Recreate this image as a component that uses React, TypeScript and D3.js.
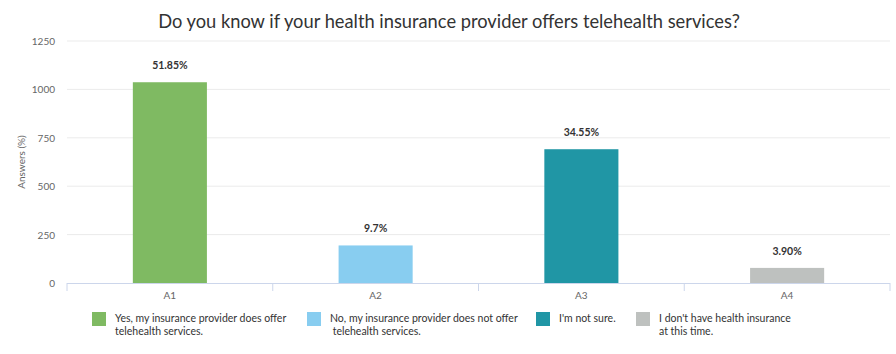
import * as d3 from 'd3'
import { useEffect, useRef } from 'react'

const categories = ['A1', 'A2', 'A3', 'A4']
const answers = [1037, 194, 691, 78]
const percentLabels = ['51.85%', '9.7%', '34.55%', '3.90%']
const legendLines = [
    ['Yes, my insurance provider does offer', 'telehealth services.'],
    ['No, my insurance provider does not offer', ' telehealth services.'],
    ["I'm not sure."],
    ["I don't have health insurance", 'at this time.'],
]
const colors = ['#7fba62', '#88cdf0', '#2096a5', '#bec1bf']
const yTicks = [0, 250, 500, 750, 1000, 1250]

const width = 896
const height = 354
const font = 'Lato, "Open Sans", sans-serif'

export default function App() {
    const svgRef = useRef<SVGSVGElement>(null)

    useEffect(() => {
        if (!svgRef.current) return
        const svg = d3.select(svgRef.current)
        svg.selectAll('*').remove()

        const margin = { top: 41, right: 6, bottom: 71, left: 67 }
        const x = d3
            .scaleBand()
            .domain(categories)
            .range([margin.left, width - margin.right])
            .paddingInner(0)
            .paddingOuter(0)
        const y = d3
            .scaleLinear()
            .domain([0, 1250])
            .range([height - margin.bottom, margin.top])

        // title
        svg.append('text')
            .attr('x', 449)
            .attr('y', 28)
            .attr('text-anchor', 'middle')
            .attr('font-family', font)
            .attr('font-size', 18.3)
            .attr('fill', '#333')
            .text('Do you know if your health insurance provider offers telehealth services?')

        // grid lines + y labels
        yTicks.forEach((t) => {
            if (t > 0) {
                svg.append('line')
                    .attr('x1', margin.left)
                    .attr('x2', width - margin.right)
                    .attr('y1', y(t))
                    .attr('y2', y(t))
                    .attr('stroke', '#ebebeb')
                    .attr('stroke-width', 1)
            }
            svg.append('text')
                .attr('x', 55)
                .attr('y', y(t) + 4)
                .attr('text-anchor', 'end')
                .attr('font-family', font)
                .attr('font-size', 10)
                .attr('fill', '#666')
                .text(t)
        })

        svg.append('text')
            .attr('transform', `translate(25,${(y(0) + y(1250)) / 2}) rotate(-90)`)
            .attr('text-anchor', 'middle')
            .attr('font-family', font)
            .attr('font-size', 10)
            .attr('fill', '#666')
            .text('Answers (%)')

        // bars
        const barW = x.bandwidth() * 0.36
        categories.forEach((c, i) => {
            const cx = (x(c) as number) + x.bandwidth() / 2
            svg.append('rect')
                .attr('x', cx - barW / 2)
                .attr('y', y(answers[i]))
                .attr('width', barW)
                .attr('height', y(0) - y(answers[i]))
                .attr('fill', colors[i])
            svg.append('text')
                .attr('x', cx)
                .attr('y', y(answers[i]) - 13)
                .attr('text-anchor', 'middle')
                .attr('font-family', font)
                .attr('font-size', 10.5)
                .attr('font-weight', 'bold')
                .attr('fill', '#333')
                .text(percentLabels[i])
            svg.append('text')
                .attr('x', cx)
                .attr('y', y(0) + 16)
                .attr('text-anchor', 'middle')
                .attr('font-family', font)
                .attr('font-size', 10)
                .attr('fill', '#666')
                .text(c)
        })

        // x axis line and ticks
        svg.append('line')
            .attr('x1', margin.left)
            .attr('x2', width - margin.right)
            .attr('y1', y(0) + 0.5)
            .attr('y2', y(0) + 0.5)
            .attr('stroke', '#ccd6eb')
        const edges = categories.map((c) => x(c) as number)
        edges.push(width - margin.right)
        edges.forEach((e) => {
            svg.append('line')
                .attr('x1', e)
                .attr('x2', e)
                .attr('y1', y(0))
                .attr('y2', y(0) + 8)
                .attr('stroke', '#ccd6eb')
        })

        // legend
        const legendX = [92, 307, 536, 636]
        legendLines.forEach((lines, i) => {
            const g = svg.append('g').attr('transform', `translate(${legendX[i]},312)`)
            g.append('rect')
                .attr('width', 14)
                .attr('height', 14)
                .attr('fill', colors[i])
            const txt = g.append('text')
                .attr('font-family', font)
                .attr('font-size', 10.5)
                .attr('fill', '#333')
                .attr('xml:space', 'preserve')
                .style('white-space', 'pre')
            lines.forEach((l, j) => {
                txt.append('tspan')
                    .attr('x', 23)
                    .attr('y', 10 + j * 13)
                    .text(l)
            })
        })
    }, [])

    return (
        <svg
            ref={svgRef}
            width={width}
            height={height}
            style={{ position: 'absolute', left: 0, top: 0 }}
        />
    )
}
